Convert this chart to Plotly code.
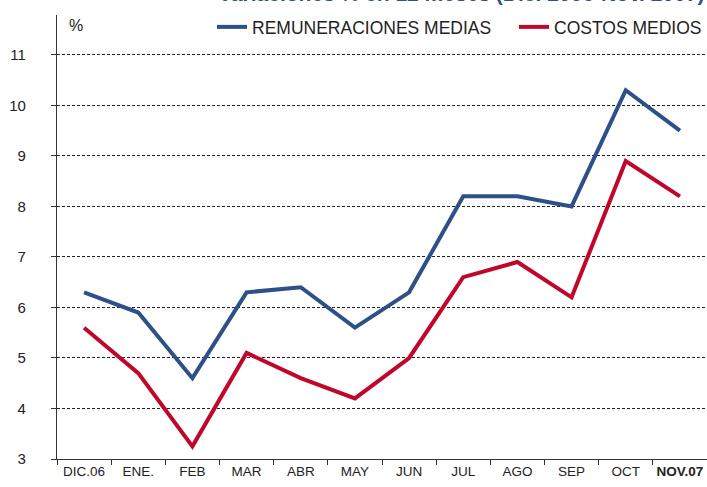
import plotly.graph_objects as go

months = ["DIC.06", "ENE.", "FEB", "MAR", "ABR", "MAY", "JUN", "JUL", "AGO", "SEP", "OCT", "NOV.07"]
tick_text = ["DIC.06", "ENE.", "FEB", "MAR", "ABR", "MAY", "JUN", "JUL", "AGO", "SEP", "OCT", "<b>NOV.07</b>"]
remuneraciones = [6.3, 5.9, 4.6, 6.3, 6.4, 5.6, 6.3, 8.2, 8.2, 8.0, 10.3, 9.5]
costos = [5.6, 4.7, 3.25, 5.1, 4.6, 4.2, 5.0, 6.6, 6.9, 6.2, 8.9, 8.2]
y_ticks = [3, 4, 5, 6, 7, 8, 9, 10, 11]

FONT = "Liberation Sans, Arial, sans-serif"
BLUE = "#2d5089"
RED = "#c0062b"

L, T, W, H = 57, 15, 650, 444
def px_x(p):
    return (p - L) / W
def px_y(p):
    return 1 - (p - T) / H

fig = go.Figure()
fig.add_trace(go.Scatter(x=months, y=remuneraciones, mode="lines", name="REMUNERACIONES MEDIAS",
                         line=dict(color=BLUE, width=4), legend="legend"))
fig.add_trace(go.Scatter(x=months, y=costos, mode="lines", name="COSTOS MEDIOS",
                         line=dict(color=RED, width=4), legend="legend2"))

leg_common = dict(orientation="h", yanchor="middle", y=px_y(27), xanchor="left",
                  font=dict(family=FONT, size=17.5, color="#222"),
                  bgcolor="rgba(0,0,0,0)", itemwidth=30)

fig.update_layout(
    width=707, height=487,
    margin=dict(l=L, r=0, t=T, b=28, autoexpand=False),
    paper_bgcolor="white", plot_bgcolor="white",
    font=dict(family=FONT, size=14, color="#222"),
    showlegend=True,
    legend=dict(x=px_x(212), **leg_common),
    legend2=dict(x=px_x(514), **leg_common),
    xaxis=dict(type="category", range=[-0.5, 11.5], tickson="boundaries",
               tickmode="array", tickvals=months, ticktext=tick_text, tickangle=0,
               ticks="outside", ticklen=5, tickcolor="#333", automargin=False,
               showline=True, linecolor="#333", linewidth=1.2,
               showgrid=False, tickfont=dict(family=FONT, size=13.5, color="#222"),
               fixedrange=True),
    yaxis=dict(range=[3, 11.79], tickmode="array", tickvals=y_ticks,
               ticks="outside", ticklen=5, tickcolor="#333", automargin=False,
               showline=True, linecolor="#333", linewidth=1.2,
               showgrid=True, gridcolor="#222", griddash="3px,2px", gridwidth=0.8,
               zeroline=False, ticklabelstandoff=22,
               tickfont=dict(family=FONT, size=15, color="#222"),
               fixedrange=True),
    annotations=[
        dict(text="%", x=px_x(67), xref="paper", xanchor="left",
             y=px_y(26), yref="paper", yanchor="middle",
             showarrow=False, font=dict(family=FONT, size=16, color="#222")),
        dict(text="<b>Variaciones % en 12 meses (Dic. 2006-Nov. 2007)</b>",
             x=px_x(706), xref="paper", xanchor="right",
             y=px_y(7), yref="paper", yanchor="bottom",
             showarrow=False, font=dict(family=FONT, size=21, color=BLUE)),
    ],
)

fig.write_html("out.html", config={"displayModeBar": False},
               post_script="document.body.style.margin='0';")
